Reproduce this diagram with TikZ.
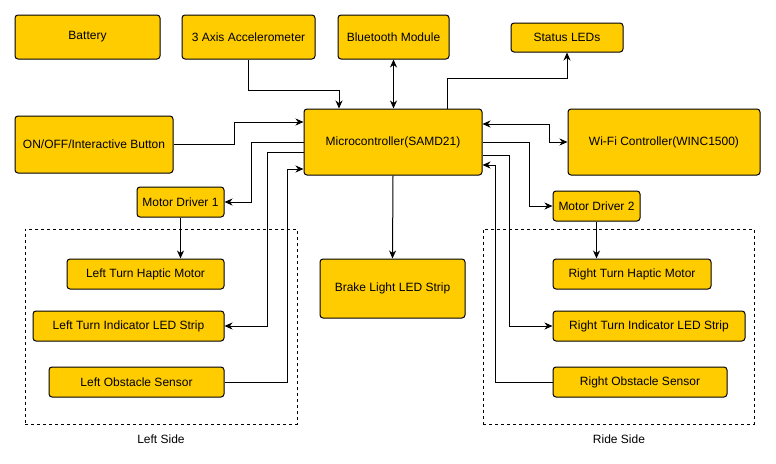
\documentclass[tikz,border=0pt]{standalone}
\usepackage{fontspec}
\setmainfont{Liberation Sans}
\usetikzlibrary{arrows.meta}
\definecolor{blkfill}{HTML}{FFCC00}
\begin{document}
\begin{tikzpicture}[x=1pt, y=-1pt, line width=1pt,
      >={Stealth[length=8pt,width=7pt,inset=2.5pt]},
      every node/.style={font=\fontsize{12}{14}\selectfont, inner sep=0pt},
      blk/.style={draw, fill=blkfill, rounded corners=3pt}]
      \useasboundingbox (0,0) rectangle (776,463);
      % groups
      \node at (161,326.5)[draw,dashed,line width=0.8pt,minimum width=272pt,minimum height=195pt] (lgrp){};
      \node at (618.5,326.5)[draw,dashed,line width=0.8pt,minimum width=271pt,minimum height=195pt] (rgrp){};
      \node at (161,439) (lgrplbl){Left Side};
      \node at (619,439) (rgrplbl){Ride Side};
      % top row
      \node at (87.5,37)[blk,minimum width=145pt,minimum height=44pt] (batt){Battery};
      \node at (248.5,37)[blk,minimum width=133pt,minimum height=44pt] (accel){3 Axis Accelerometer};
      \node at (393.5,37)[blk,minimum width=111pt,minimum height=44pt] (bt){Bluetooth Module};
      \node at (567,37.5)[blk,minimum width=112pt,minimum height=29pt] (leds){Status LEDs};
      % middle row
      \node at (94,144.5)[blk,minimum width=158pt,minimum height=57pt] (btn){ON/OFF/Interactive Button};
      \node at (393,142)[blk,minimum width=178pt,minimum height=66pt] (mcu){Microcontroller(SAMD21)};
      \node at (664,142)[blk,minimum width=192pt,minimum height=66pt] (wifi){Wi-Fi Controller(WINC1500)};
      \node at (180.5,202)[blk,minimum width=87pt,minimum height=30pt] (md1){Motor Driver 1};
      \node at (596.5,206)[blk,minimum width=87pt,minimum height=30pt] (md2){Motor Driver 2};
      % left side
      \node at (145.5,274)[blk,minimum width=157pt,minimum height=30pt] (lhap){Left Turn Haptic Motor};
      \node at (128.5,326)[blk,minimum width=191pt,minimum height=30pt] (lind){Left Turn Indicator LED Strip};
      \node at (136.5,382)[blk,minimum width=175pt,minimum height=30pt] (lobs){Left Obstacle Sensor};
      % center
      \node at (392.5,288.5)[blk,minimum width=145pt,minimum height=59pt] (brake){Brake Light LED Strip};
      % right side
      \node at (632,274)[blk,minimum width=158pt,minimum height=30pt] (rhap){Right Turn Haptic Motor};
      \node at (649,326)[blk,minimum width=192pt,minimum height=30pt] (rind){Right Turn Indicator LED Strip};
      \node at (640,382)[blk,minimum width=174pt,minimum height=30pt] (robs){Right Obstacle Sensor};
      % connections
      \draw[->] (accel.south) |- (339,90) -- ([xshift=-54pt]mcu.north);
      \draw[<->] (bt.south) -- (bt.south |- mcu.north);
      \draw[->] ([xshift=54pt]mcu.north) |- (567,78) -- (leds.south);
      \draw[->] (btn.east) -| (234,122) -- ([yshift=20pt]mcu.west);
      \draw[->] (mcu.west) -| (251,202) -- (md1.east);
      \draw[->] ([yshift=-10pt]mcu.west) -| (267,326) -- (lind.east);
      \draw[->] (lobs.east) -| (287,169) -- ([yshift=-27pt]mcu.west);
      \draw[->] (md1.south) -- (md1.south |- lhap.north);
      \draw[->] (mcu.south) -- (brake.north);
      \draw[<->] ([yshift=18pt]mcu.east) -| (549,142) -- (wifi.west);
      \draw[->] (mcu.east) -| (529,206) -- (md2.west);
      \draw[->] ([yshift=-13pt]mcu.east) -| (509,326) -- (rind.west);
      \draw[->] (robs.west) -| (495,165) -- ([yshift=-23pt]mcu.east);
      \draw[->] (md2.south) -- (md2.south |- rhap.north);
\end{tikzpicture}
\end{document}
